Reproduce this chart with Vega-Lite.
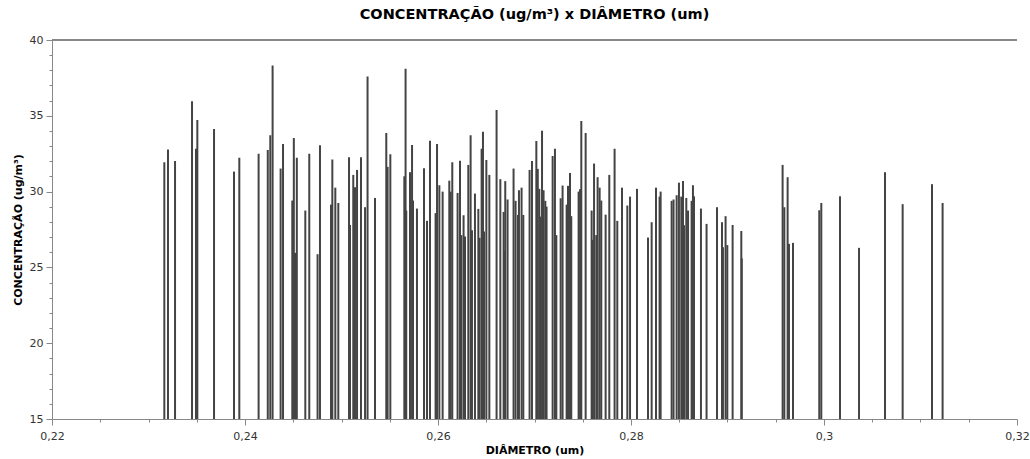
{
  "$schema": "https://vega.github.io/schema/vega-lite/v6.json",
  "width": 965,
  "height": 379,
  "autosize": {"type": "none"},
  "padding": {"left": 52, "top": 40, "right": 13, "bottom": 40},
  "background": "white",
  "title": {"text": "CONCENTRAÇÃO (ug/m³) x DIÂMETRO (um)", "font": "DejaVu Sans", "fontSize": 14.5, "fontWeight": "bold", "color": "#000", "anchor": "middle", "offset": 12},
  "data": {"values": [
    {"d": 0.23164, "c": 31.94}, {"d": 0.23202, "c": 32.77}, {"d": 0.23275, "c": 32.02}, {"d": 0.23451, "c": 35.96},
    {"d": 0.23492, "c": 32.83}, {"d": 0.23506, "c": 34.73}, {"d": 0.23679, "c": 34.13}, {"d": 0.23886, "c": 31.32},
    {"d": 0.23941, "c": 32.24}, {"d": 0.24141, "c": 32.49}, {"d": 0.24236, "c": 32.75}, {"d": 0.24262, "c": 33.72},
    {"d": 0.24286, "c": 38.32}, {"d": 0.24369, "c": 31.52}, {"d": 0.24394, "c": 33.14}, {"d": 0.2449, "c": 29.41},
    {"d": 0.24506, "c": 33.54}, {"d": 0.24518, "c": 25.96}, {"d": 0.24537, "c": 32.24}, {"d": 0.24625, "c": 28.75},
    {"d": 0.24666, "c": 32.49}, {"d": 0.24752, "c": 25.87}, {"d": 0.24777, "c": 33.05}, {"d": 0.24891, "c": 29.14},
    {"d": 0.24905, "c": 32.11}, {"d": 0.24936, "c": 30.26}, {"d": 0.24967, "c": 29.25}, {"d": 0.25078, "c": 32.27},
    {"d": 0.25088, "c": 27.8}, {"d": 0.25122, "c": 31.1}, {"d": 0.2514, "c": 30.29}, {"d": 0.25161, "c": 31.43},
    {"d": 0.25202, "c": 32.27}, {"d": 0.25244, "c": 28.97}, {"d": 0.2527, "c": 37.6}, {"d": 0.25347, "c": 29.58},
    {"d": 0.25464, "c": 33.87}, {"d": 0.25478, "c": 31.63}, {"d": 0.25506, "c": 32.47}, {"d": 0.25651, "c": 31.01},
    {"d": 0.25664, "c": 38.11}, {"d": 0.25671, "c": 28.75}, {"d": 0.2571, "c": 31.28}, {"d": 0.25731, "c": 33.08},
    {"d": 0.25741, "c": 29.41}, {"d": 0.25782, "c": 28.88}, {"d": 0.25855, "c": 31.54}, {"d": 0.25886, "c": 28.07},
    {"d": 0.25917, "c": 33.36}, {"d": 0.25975, "c": 28.58}, {"d": 0.2599, "c": 33.14}, {"d": 0.26014, "c": 30.42},
    {"d": 0.26048, "c": 30.0}, {"d": 0.26117, "c": 30.72}, {"d": 0.26131, "c": 30.0}, {"d": 0.26148, "c": 31.94},
    {"d": 0.26203, "c": 29.91}, {"d": 0.26228, "c": 32.04}, {"d": 0.26242, "c": 27.13}, {"d": 0.26265, "c": 28.44},
    {"d": 0.2628, "c": 27.04}, {"d": 0.26314, "c": 31.76}, {"d": 0.26338, "c": 33.72}, {"d": 0.26352, "c": 27.45},
    {"d": 0.26383, "c": 29.87}, {"d": 0.26418, "c": 28.86}, {"d": 0.26431, "c": 26.95}, {"d": 0.26452, "c": 32.83},
    {"d": 0.26466, "c": 33.94}, {"d": 0.26477, "c": 27.37}, {"d": 0.26501, "c": 32.09}, {"d": 0.26532, "c": 31.1},
    {"d": 0.26607, "c": 35.39}, {"d": 0.26646, "c": 30.82}, {"d": 0.2668, "c": 28.66}, {"d": 0.2669, "c": 26.09},
    {"d": 0.26697, "c": 30.69}, {"d": 0.26721, "c": 29.48}, {"d": 0.26783, "c": 31.52}, {"d": 0.26804, "c": 29.39},
    {"d": 0.26829, "c": 28.46}, {"d": 0.26839, "c": 30.09}, {"d": 0.26866, "c": 30.26}, {"d": 0.26884, "c": 28.46},
    {"d": 0.26949, "c": 31.43}, {"d": 0.26974, "c": 32.02}, {"d": 0.27019, "c": 33.34}, {"d": 0.27034, "c": 31.5},
    {"d": 0.2705, "c": 30.18}, {"d": 0.27057, "c": 28.35}, {"d": 0.27078, "c": 34.02}, {"d": 0.27094, "c": 30.09},
    {"d": 0.27112, "c": 29.39}, {"d": 0.27125, "c": 29.01}, {"d": 0.27188, "c": 32.35}, {"d": 0.27212, "c": 32.83},
    {"d": 0.27226, "c": 27.13}, {"d": 0.27271, "c": 29.56}, {"d": 0.27291, "c": 30.4}, {"d": 0.27333, "c": 29.14},
    {"d": 0.27347, "c": 30.38}, {"d": 0.27368, "c": 31.23}, {"d": 0.27381, "c": 28.38}, {"d": 0.27457, "c": 30.0},
    {"d": 0.27472, "c": 30.16}, {"d": 0.27485, "c": 34.66}, {"d": 0.2753, "c": 33.87}, {"d": 0.27592, "c": 28.75},
    {"d": 0.27602, "c": 26.82}, {"d": 0.27617, "c": 31.85}, {"d": 0.2764, "c": 27.13}, {"d": 0.27654, "c": 30.95},
    {"d": 0.27675, "c": 30.26}, {"d": 0.27692, "c": 29.41}, {"d": 0.27737, "c": 28.48}, {"d": 0.27775, "c": 31.1},
    {"d": 0.2783, "c": 32.83}, {"d": 0.27858, "c": 28.07}, {"d": 0.27907, "c": 30.26}, {"d": 0.27962, "c": 29.08},
    {"d": 0.2799, "c": 29.67}, {"d": 0.28062, "c": 30.18}, {"d": 0.28176, "c": 26.97}, {"d": 0.28214, "c": 27.98},
    {"d": 0.28259, "c": 30.26}, {"d": 0.28296, "c": 29.67}, {"d": 0.28307, "c": 30.0}, {"d": 0.28421, "c": 29.39},
    {"d": 0.28441, "c": 29.48}, {"d": 0.28473, "c": 29.76}, {"d": 0.28497, "c": 30.59}, {"d": 0.28521, "c": 29.67},
    {"d": 0.28539, "c": 30.7}, {"d": 0.28549, "c": 27.78}, {"d": 0.28573, "c": 29.58}, {"d": 0.28591, "c": 28.75},
    {"d": 0.28628, "c": 29.39}, {"d": 0.28642, "c": 30.42}, {"d": 0.28653, "c": 29.69}, {"d": 0.28725, "c": 28.88},
    {"d": 0.28783, "c": 27.87}, {"d": 0.28891, "c": 28.97}, {"d": 0.28943, "c": 27.98}, {"d": 0.28953, "c": 26.33},
    {"d": 0.2898, "c": 28.38}, {"d": 0.28998, "c": 26.47}, {"d": 0.29053, "c": 27.8}, {"d": 0.29143, "c": 27.4},
    {"d": 0.29148, "c": 25.6}, {"d": 0.29571, "c": 31.76}, {"d": 0.29589, "c": 28.97}, {"d": 0.29623, "c": 30.95},
    {"d": 0.29637, "c": 26.55}, {"d": 0.29679, "c": 26.62}, {"d": 0.29951, "c": 28.77}, {"d": 0.29972, "c": 29.25},
    {"d": 0.30166, "c": 29.69}, {"d": 0.30363, "c": 26.29}, {"d": 0.30632, "c": 31.28}, {"d": 0.30815, "c": 29.17},
    {"d": 0.31119, "c": 30.49}, {"d": 0.31229, "c": 29.25}
  ]},
  "layer": [
    {
      "mark": {"type": "rule", "strokeWidth": 2, "color": "#444"},
      "encoding": {
        "x": {
          "field": "d", "type": "quantitative",
          "scale": {"domain": [0.22, 0.32], "nice": false, "zero": false},
          "axis": {
            "values": [0.22, 0.225, 0.23, 0.235, 0.24, 0.245, 0.25, 0.255, 0.26, 0.265, 0.27, 0.275, 0.28, 0.285, 0.29, 0.295, 0.3, 0.305, 0.31, 0.315, 0.32],
            "labelExpr": "round(datum.value*1000) % 20 == 0 ? replace(format(datum.value, '.2~f'), '.', ',') : ''",
            "labelOverlap": false, "labelFlush": false,
            "title": "DIÂMETRO (um)",
            "titleFont": "DejaVu Sans", "titleFontWeight": "bold", "titleFontSize": 11, "titleColor": "#000", "titlePadding": 3,
            "labelFont": "DejaVu Sans", "labelFontSize": 11, "labelColor": "#333", "labelPadding": 5,
            "domainColor": "#888", "tickColor": "#888",
            "tickSize": {"condition": {"test": "round(datum.value*1000) % 20 == 0", "value": 6}, "value": 3},
            "grid": false
          }
        },
        "y": {
          "field": "c", "type": "quantitative",
          "scale": {"domain": [15, 40], "nice": false, "zero": false},
          "axis": {
            "values": [15,16,17,18,19,20,21,22,23,24,25,26,27,28,29,30,31,32,33,34,35,36,37,38,39,40],
            "labelExpr": "round(datum.value) % 5 == 0 ? format(datum.value, 'd') : ''",
            "labelOverlap": false, "labelFlush": false,
            "title": "CONCENTRAÇÃO (ug/m³)",
            "titleFont": "DejaVu Sans", "titleFontWeight": "bold", "titleFontSize": 11, "titleColor": "#000", "titlePadding": 6,
            "labelFont": "DejaVu Sans", "labelFontSize": 11, "labelColor": "#333", "labelPadding": 3,
            "domainColor": "#888", "tickColor": "#888",
            "tickSize": {"condition": {"test": "round(datum.value) % 5 == 0", "value": 6}, "value": 3},
            "grid": false
          }
        },
        "y2": {"datum": 15}
      }
    },
    {
      "mark": {"type": "rule", "strokeWidth": 1.5, "color": "#888"},
      "encoding": {"y": {"datum": 40, "type": "quantitative",
          "axis": {
            "values": [15,16,17,18,19,20,21,22,23,24,25,26,27,28,29,30,31,32,33,34,35,36,37,38,39,40],
            "labelExpr": "round(datum.value) % 5 == 0 ? format(datum.value, 'd') : ''",
            "labelOverlap": false, "labelFlush": false,
            "title": "CONCENTRAÇÃO (ug/m³)",
            "titleFont": "DejaVu Sans", "titleFontWeight": "bold", "titleFontSize": 11, "titleColor": "#000", "titlePadding": 6,
            "labelFont": "DejaVu Sans", "labelFontSize": 11, "labelColor": "#333", "labelPadding": 3,
            "domainColor": "#888", "tickColor": "#888",
            "tickSize": {"condition": {"test": "round(datum.value) % 5 == 0", "value": 6}, "value": 3},
            "grid": false
          }}}
    }
  ],
  "config": {"view": {"stroke": null}}
}
